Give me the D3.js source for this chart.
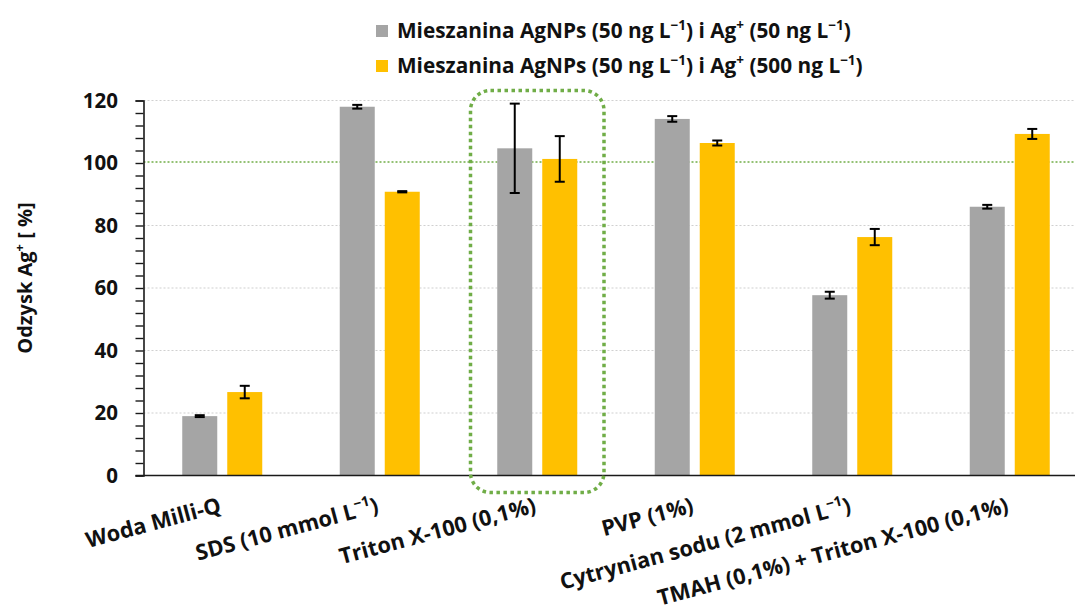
<!DOCTYPE html>
<html>
<head>
<meta charset="utf-8">
<script src="https://cdn.jsdelivr.net/npm/d3@7"></script>
<style>
  html, body { margin: 0; padding: 0; background: #ffffff; }
  svg { display: block; font-family: "Open Sans", Lato, sans-serif; }
</style>
</head>
<body>
<svg id="chart" width="1075" height="614"></svg>
<script>
// ---- data ----
const categories = [
  "Woda Milli-Q",
  "SDS (10 mmol L^{−1})",
  "Triton X-100 (0,1%)",
  "PVP (1%)",
  "Cytrynian sodu (2 mmol L^{−1})",
  "TMAH (0,1%) + Triton X-100 (0,1%)"
];
const seriesNames = [
  "Mieszanina AgNPs (50 ng L^{−1}) i Ag^{+} (50 ng L^{−1})",
  "Mieszanina AgNPs (50 ng L^{−1}) i Ag^{+} (500 ng L^{−1})"
];
const values50 = [19.0, 118.0, 104.7, 114.1, 57.7, 86.0];
const errors50 = [0.3, 0.6, 14.3, 0.9, 1.1, 0.6];
const values500 = [26.7, 90.8, 101.3, 106.4, 76.3, 109.3];
const errors500 = [2.0, 0.2, 7.3, 0.8, 2.6, 1.6];
const yTicks = [0, 20, 40, 60, 80, 100, 120];
const yTitle = "Odzysk Ag^{+} [ %]";
const highlighted = "Triton X-100 (0,1%)";
const referenceValue = 100;

const colors = ["#A5A5A5", "#FFC000"];

// ---- layout ----
const svg = d3.select("#chart");
const plotLeft = 143.5, plotRight = 1088.5;
const y0px = 475.5, y120px = 100.5;

const x0 = d3.scaleBand().domain(categories).range([plotLeft, plotRight]).padding(0);
const x1 = d3.scaleBand().domain([0, 1]).range([0, 80]).paddingInner(10 / 45).paddingOuter(0);
const y = d3.scaleLinear().domain([0, 120]).range([y0px, y120px]);

// helper to write text with superscripts ^{...}
function richText(sel, str, supSize, shift) {
  const parts = str.split(/(\^\{[^}]*\})/);
  let shifted = false;
  parts.forEach(p => {
    if (!p) return;
    const m = p.match(/^\^\{([^}]*)\}$/);
    if (m) {
      sel.append("tspan").attr("dy", -shift).style("font-size", supSize).text(m[1]);
      shifted = true;
    } else {
      const t = sel.append("tspan").text(p);
      if (shifted) { t.attr("dy", shift); shifted = false; }
    }
  });
}

// gridlines
const grid = svg.append("g");
yTicks.filter(v => v > 0 && v !== referenceValue).forEach(v => {
  grid.append("line")
    .attr("x1", plotLeft).attr("x2", 1075)
    .attr("y1", y(v)).attr("y2", y(v))
    .attr("stroke", "#D0D0D0").attr("stroke-width", 1.2)
    .attr("stroke-dasharray", "2,2");
});
// reference line
svg.append("line")
  .attr("x1", plotLeft).attr("x2", 1075)
  .attr("y1", y(referenceValue) - 1).attr("y2", y(referenceValue) - 1)
  .attr("stroke", "#70AD47").attr("stroke-width", 1.6)
  .attr("stroke-dasharray", "2,2");

// bars
const rows = categories.map((c, i) => ({
  cat: c,
  vals: [
    { s: 0, v: values50[i], e: errors50[i] },
    { s: 1, v: values500[i], e: errors500[i] }
  ]
}));
const groups = svg.append("g").selectAll("g").data(rows).join("g")
  .attr("transform", d => `translate(${x0(d.cat) + (x0.bandwidth() - 80) / 2},0)`);
groups.selectAll("rect").data(d => d.vals).join("rect")
  .attr("x", d => x1(d.s))
  .attr("width", x1.bandwidth())
  .attr("y", d => y(d.v))
  .attr("height", d => y(0) - y(d.v))
  .attr("fill", d => colors[d.s]);

// error bars
const eb = groups.selectAll("g.err").data(d => d.vals).join("g").attr("class", "err")
  .attr("stroke", "#000").attr("stroke-width", 2);
eb.append("line")
  .attr("x1", d => x1(d.s) + x1.bandwidth() / 2).attr("x2", d => x1(d.s) + x1.bandwidth() / 2)
  .attr("y1", d => y(d.v + d.e)).attr("y2", d => y(d.v - d.e));
eb.append("line")
  .attr("x1", d => x1(d.s) + x1.bandwidth() / 2 - 5).attr("x2", d => x1(d.s) + x1.bandwidth() / 2 + 5)
  .attr("y1", d => y(d.v + d.e)).attr("y2", d => y(d.v + d.e));
eb.append("line")
  .attr("x1", d => x1(d.s) + x1.bandwidth() / 2 - 5).attr("x2", d => x1(d.s) + x1.bandwidth() / 2 + 5)
  .attr("y1", d => y(d.v - d.e)).attr("y2", d => y(d.v - d.e));

// x axis line
svg.append("line")
  .attr("x1", plotLeft - 8).attr("x2", 1075)
  .attr("y1", y(0)).attr("y2", y(0))
  .attr("stroke", "#1a1a1a").attr("stroke-width", 1.6);

// y axis with minor ticks
const yAxisG = svg.append("g").attr("transform", `translate(${plotLeft},0)`);
yAxisG.call(d3.axisLeft(y).tickValues(d3.range(0, 121, 4)).tickSize(8).tickFormat(""))
  .call(g => g.select(".domain").attr("stroke", "#1a1a1a").attr("stroke-width", 1.6))
  .call(g => g.selectAll(".tick line").attr("stroke", "#1a1a1a").attr("stroke-width", 1.4));
yAxisG.selectAll(".tick text").remove();
const yLab = svg.append("g");
yTicks.forEach(v => {
  yLab.append("text")
    .attr("x", 118).attr("y", y(v)).attr("dy", "0.36em")
    .attr("text-anchor", "end")
    .style("font-size", "20.5px").style("font-weight", "bold").attr("fill", "#111")
    .text(v);
});

// y title
const yt = svg.append("text")
  .attr("transform", `translate(32,278) rotate(-90)`)
  .attr("text-anchor", "middle")
  .style("font-size", "20px").style("font-weight", "bold").attr("fill", "#111");
richText(yt, yTitle, "13px", 8);

// x labels
categories.forEach(c => {
  const cx = x0(c) + x0.bandwidth() / 2;
  const t = svg.append("text")
    .attr("transform", `translate(${cx},512) rotate(-15)`)
    .attr("text-anchor", "end")
    .style("font-size", "21.8px").style("font-weight", "bold").attr("fill", "#111");
  richText(t, c, "14px", 9);
});

// highlight box
const hx = x0(highlighted);
svg.append("rect")
  .attr("x", hx + 12).attr("width", x0.bandwidth() - 24)
  .attr("y", y(120) - 10).attr("height", y(0) + 17 - (y(120) - 10))
  .attr("rx", 20).attr("ry", 20)
  .attr("fill", "none").attr("stroke", "#70AD47").attr("stroke-width", 3.5)
  .attr("stroke-dasharray", "3.5,3.5");

// legend
const leg = svg.append("g");
seriesNames.forEach((s, i) => {
  const ly = 38 + i * 35;
  leg.append("rect").attr("x", 376).attr("y", ly - 13).attr("width", 12).attr("height", 12)
    .attr("fill", colors[i]);
  const t = leg.append("text").attr("x", 397).attr("y", ly)
    .style("font-size", "20.8px").style("font-weight", "bold").attr("fill", "#111");
  richText(t, s, "13.5px", 8);
});
</script>
</body>
</html>
